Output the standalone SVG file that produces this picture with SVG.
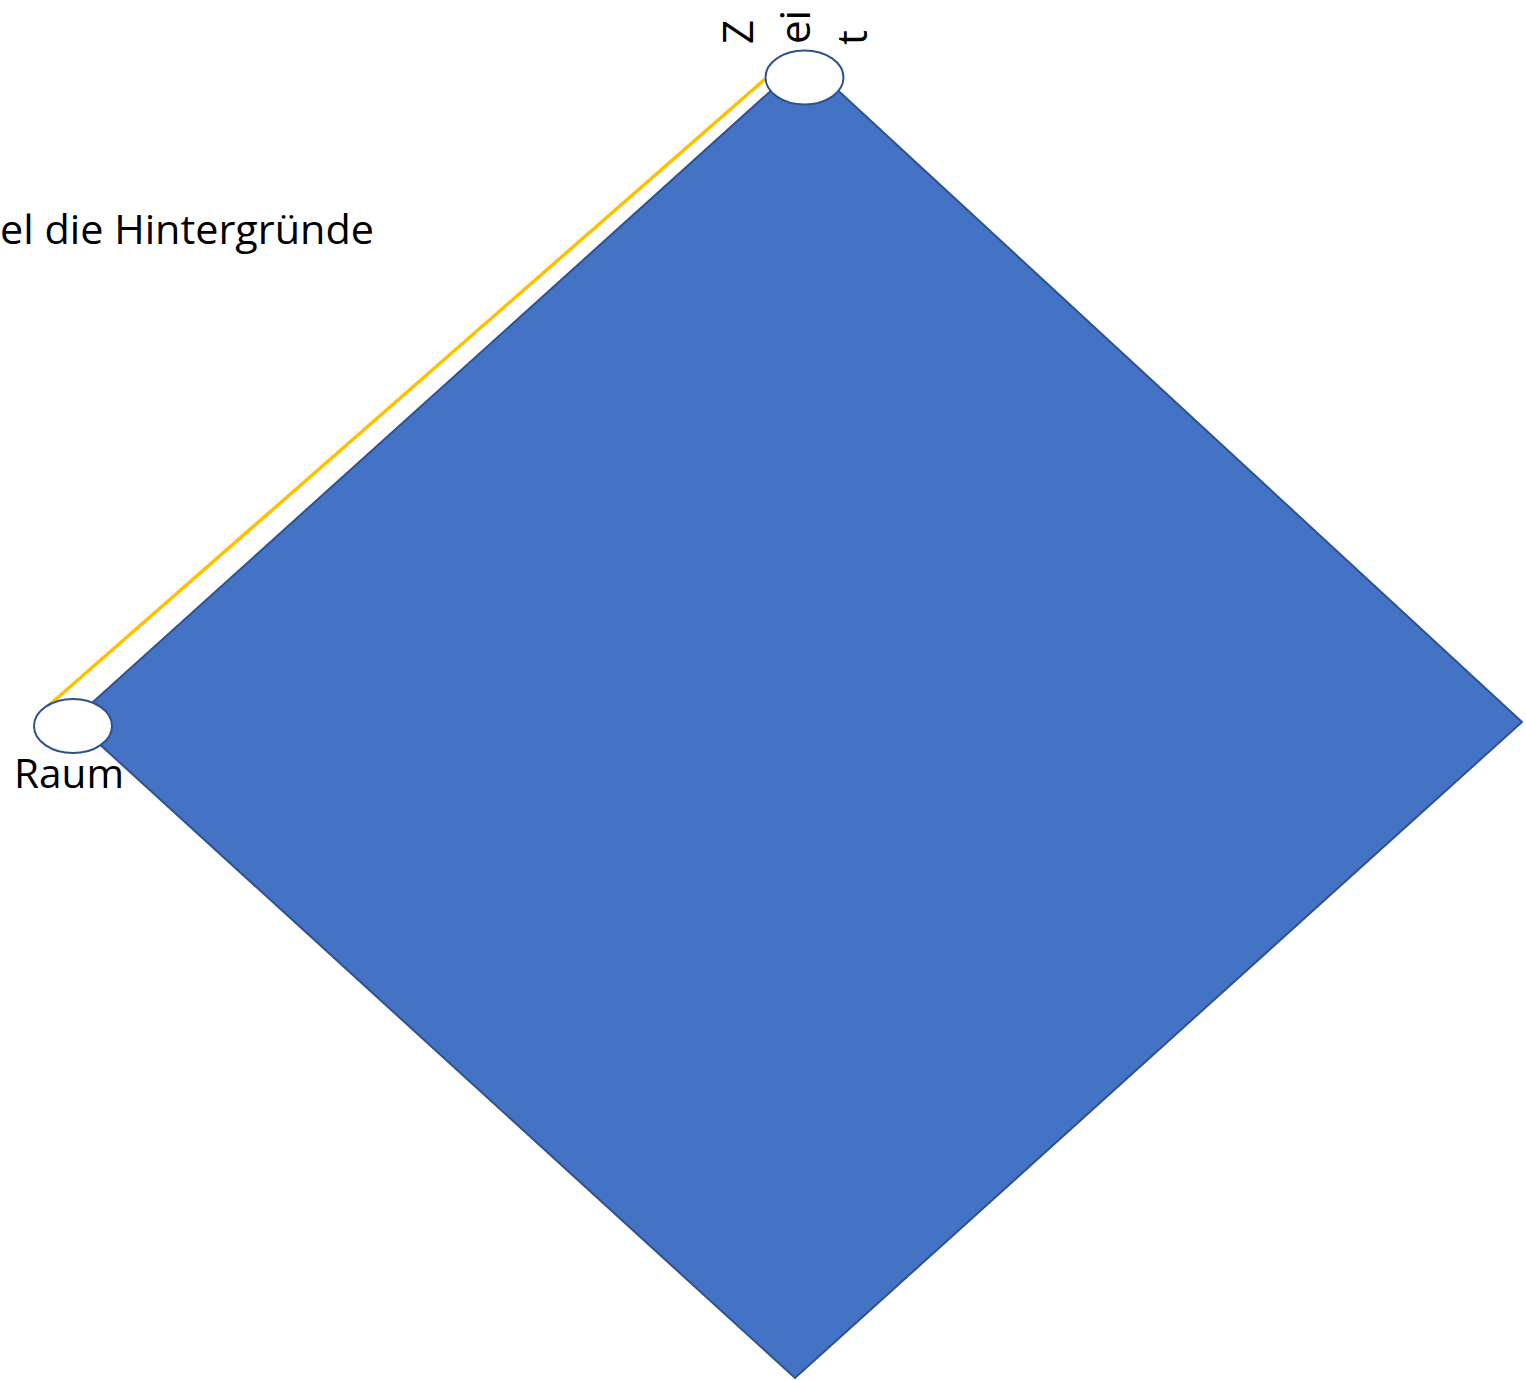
<svg xmlns="http://www.w3.org/2000/svg" width="1526" height="1380" viewBox="0 0 1526 1380">
<style>
.lbl{font-family:"Open Sans","Noto Sans","DejaVu Sans",sans-serif;fill:#000}
.node{fill:#fff;stroke:#2F528F;stroke-width:2}
.conn{stroke:#FFC000;stroke-width:3.5;fill:none}
</style>
<rect width="1526" height="1380" fill="#fff"/>
<g id="diamond">
<polygon points="805,60 1522,722 795,1378 73,720" fill="#4472C4" stroke="#2F528F" stroke-width="2"/>
</g>
<g id="connectors">
<line class="conn" x1="765" y1="79" x2="47" y2="707"/>
</g>
<g id="node-zeit">
<ellipse class="node" cx="804.5" cy="77.5" rx="39" ry="27"/>
<text class="lbl" font-size="42" transform="translate(753,44) rotate(-90)">Z</text>
<text class="lbl" font-size="42" transform="translate(810,44) rotate(-90)">ei</text>
<text class="lbl" font-size="42" transform="translate(867,45) rotate(-90)">t</text>
</g>
<g id="node-raum">
<ellipse class="node" cx="73" cy="726" rx="39" ry="27"/>
<text class="lbl" font-size="41" x="14" y="788" textLength="110" lengthAdjust="spacingAndGlyphs">Raum</text>
</g>
<g id="caption">
<text class="lbl" font-size="41" x="0" y="244" textLength="374" lengthAdjust="spacingAndGlyphs">el die Hintergründe</text>
</g>
</svg>
